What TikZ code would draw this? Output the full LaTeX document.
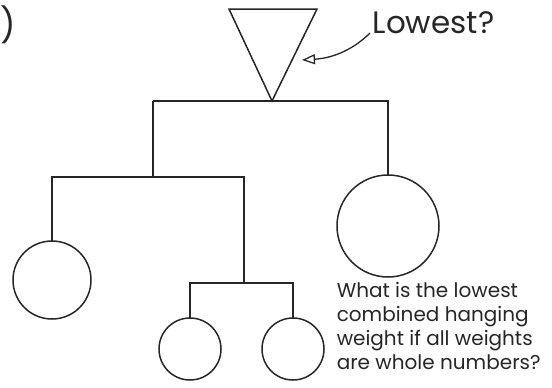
\documentclass[tikz,border=0pt]{standalone}
\usepackage{fontspec}
\setmainfont{Poppins}
\usetikzlibrary{arrows.meta}
\begin{document}
\begin{tikzpicture}[x=1pt,y=-1pt,
  line width=1.5pt, draw=black!85,
  weight/.style={circle, draw, inner sep=0pt, outer sep=0pt},
  lbl/.style={text=black!85, inner sep=0pt}]
\useasboundingbox (0,0) rectangle (552,388);
% top label fragment
\node[lbl, anchor=base east, font=\fontsize{34}{34}\selectfont] (num) at (17,37) {)};
% pivot triangle
\coordinate (apex) at (272,101);
\draw[line join=miter] (229,9) -- (317,9) -- (apex) -- cycle;
% weights
\node[weight, minimum size=102pt] (big) at (388,226) {};
\node[weight, minimum size=78pt] (c1) at (52,280) {};
\node[weight, minimum size=62pt] (c2) at (190,349) {};
\node[weight, minimum size=62pt] (c3) at (293,349) {};
% bars
\coordinate (h1l) at (153,101); \coordinate (h1r) at (388,101);
\coordinate (h2l) at (52,177);  \coordinate (h2m) at (153,177); \coordinate (h2r) at (244,177);
\coordinate (h3l) at (190,283); \coordinate (h3m) at (244,283); \coordinate (h3r) at (293,283);
\draw (h1l) -- (h1r) -- (big.north);
\draw (h1l) -- (h2m);
\draw (c1.north) -- (h2l) -- (h2r) -- (h3m);
\draw (c2.north) -- (h3l) -- (h3r) -- (c3.north);
% label and arrow
\node[lbl, anchor=base west, font=\fontsize{31}{31}\selectfont] (lw) at (372,33) {Lowest?};
\coordinate (tip) at (302,60);
\draw[line width=1.3pt, -{Triangle[open,length=13pt,width=10pt]}] ([xshift=-2pt]lw.base west) .. controls (355,48) and (335,58) .. (tip);
% question
\node[lbl, anchor=north west, align=left, font=\fontsize{20}{24}\selectfont] (q) at (336,282)
  {What is the lowest\\combined hanging\\weight if all weights\\are whole numbers?};
\end{tikzpicture}
\end{document}
